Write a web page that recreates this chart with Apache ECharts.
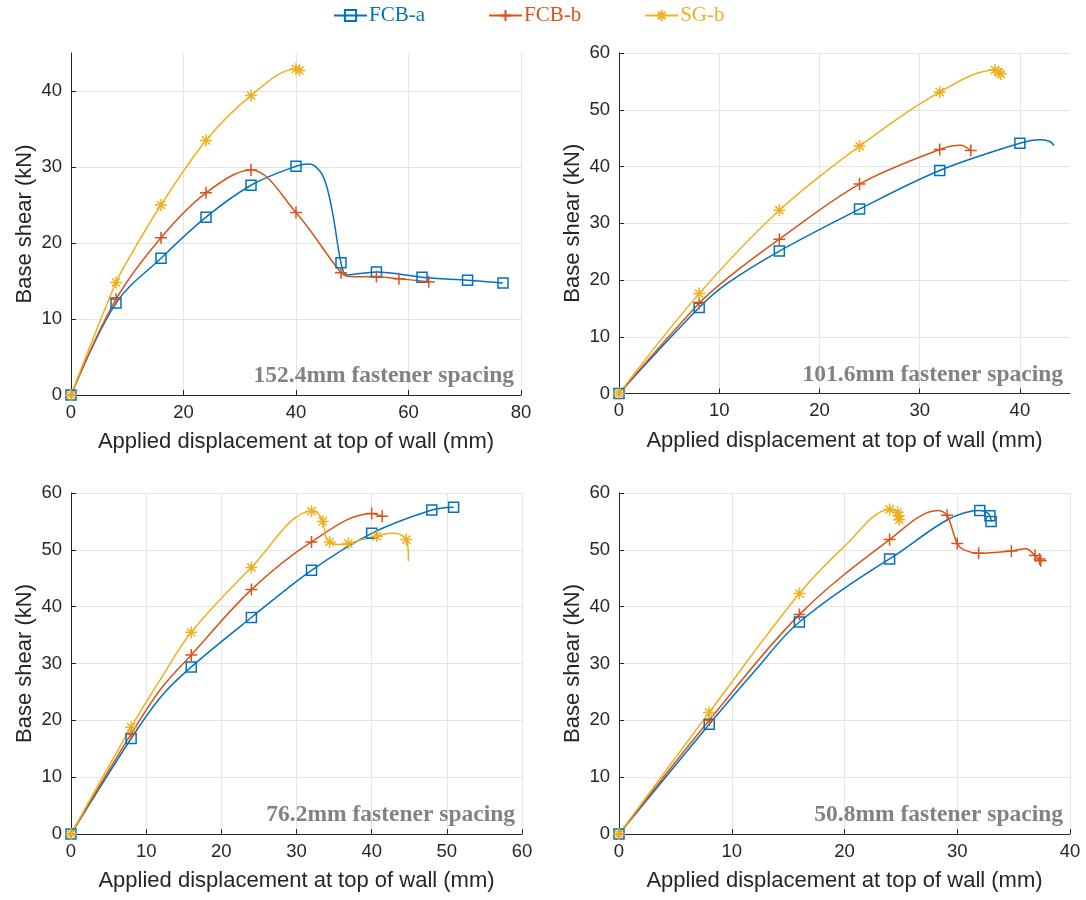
<!DOCTYPE html>
<html>
<head>
<meta charset="utf-8">
<script src="https://cdn.jsdelivr.net/npm/echarts@6/dist/echarts.min.js"></script>
<style>
  html, body { margin: 0; padding: 0; background: #fff; }
  #chart { width: 1086px; height: 900px; }
</style>
</head>
<body>
<div id="chart"></div>
<script>
// Base shear vs. applied top-of-wall displacement for three wall specimens,
// one panel per fastener spacing. "Points" are the marked test readings,
// "Curve" is the fitted response traced through them.

const seriesNames = ['FCB-a', 'FCB-b', 'SG-b'];
const panelLabels = [
  '152.4mm fastener spacing',
  '101.6mm fastener spacing',
  '76.2mm fastener spacing',
  '50.8mm fastener spacing'
];
const xAxisTitle = 'Applied displacement at top of wall (mm)';
const yAxisTitle = 'Base shear (kN)';
const xMax = [80, 45, 60, 40];
const xStep = [20, 10, 10, 10];
const yMax = [45, 60, 60, 60];
const yStep = [10, 10, 10, 10];

// ---- 152.4 mm spacing ----
const fcbA152Points = [[0,0],[8,12.1],[16,18.0],[24,23.4],[32,27.6],[40,30.1],[48,17.4],[54.3,16.2],[62.4,15.5],[70.5,15.1],[76.8,14.75]];
const fcbA152Curve  = [[0,0],[8,12.1],[16,18.0],[24,23.4],[32,27.6],[40,30.1],[42.4,30.4],[44.2,29.5],[45.4,27.6],[46.6,23.6],[48,17.4],[49,15.8],[54.3,16.2],[62.4,15.5],[70.5,15.1],[76.8,14.75]];
const fcbB152Points = [[0,0],[8,12.6],[16,20.7],[24,26.6],[32,29.6],[40,24.0],[48,16.1],[54.3,15.6],[58.3,15.3],[63.6,14.9]];
const fcbB152Curve  = [[0,0],[8,12.6],[16,20.7],[24,26.6],[32,29.6],[40,24.0],[48,16.1],[49.3,15.6],[54.3,15.55],[58.3,15.3],[63.6,14.9]];
const sgB152Points  = [[0,0],[8,14.8],[16,25.0],[24,33.5],[32,39.4],[40,42.9],[40.6,42.7]];
const sgB152Curve   = [[0,0],[8,14.8],[10.7,18.5],[16,25.0],[24,33.5],[32,39.4],[40,42.9],[40.8,42.5]];

// ---- 101.6 mm spacing ----
const fcbA102Points = [[0,0],[8,15.15],[16,25.1],[24,32.5],[32,39.3],[40,44.1]];
const fcbA102Curve  = [[0,0],[8,15.15],[10.8,19.4],[16,25.1],[24,32.5],[32,39.3],[40,44.1],[42.1,44.7],[43.0,44.4],[43.4,43.7]];
const fcbB102Points = [[0,0],[8,15.9],[16,27.2],[24,36.9],[32,43.0],[35.1,42.8]];
const fcbB102Curve  = [[0,0],[8,15.9],[10.8,20.3],[16,27.2],[24,36.9],[32,43.0],[34.1,43.75],[35.1,42.8]];
const sgB102Points  = [[0,0],[8,17.6],[16,32.3],[24,43.6],[32,53.1],[37.5,57.0],[37.9,56.6],[38.1,56.3]];
const sgB102Curve   = [[0,0],[8,17.6],[16,32.3],[24,43.6],[32,53.1],[37.5,57.0],[38.1,56.3]];

// ---- 76.2 mm spacing ----
const fcbA76Points = [[0,0],[8,16.8],[16,29.4],[24,38.1],[32,46.4],[40,52.9],[48,57.0],[50.9,57.5]];
const fcbA76Curve  = [[0,0],[8,16.8],[12,24.2],[16,29.4],[24,38.1],[32,46.4],[40,52.9],[48,57.0],[50.9,57.5]];
const fcbB76Points = [[0,0],[8,17.6],[16,31.5],[24,43.0],[32,51.4],[40,56.4],[41.4,55.9]];
const fcbB76Curve  = [[0,0],[8,17.6],[12,25.6],[16,31.5],[24,43.0],[32,51.4],[40,56.4],[41.4,55.9]];
const sgB76Points  = [[0,0],[8,18.8],[16,35.5],[24,46.9],[32,56.8],[33.5,55.0],[34.4,51.4],[36.9,51.1],[40.7,52.4],[44.6,51.8]];
const sgB76Curve   = [[0,0],[8,18.8],[12,27.4],[16,35.5],[24,46.9],[32,56.8],[32.8,56.5],[33.5,55.0],[33.9,52.3],[34.4,51.4],[35.5,50.95],[36.9,51.1],[38.7,51.8],[40.7,52.4],[42.5,52.9],[43.8,52.7],[44.6,51.8],[44.85,50.0],[44.9,48.0]];

// ---- 50.8 mm spacing ----
const fcbA51Points = [[0,0],[8,19.3],[16,37.3],[24,48.4],[32,56.9],[32.9,56.0],[33,55.0]];
const fcbA51Curve  = [[0,0],[8,19.3],[12,28.6],[16,37.3],[24,48.4],[32,56.9],[32.6,56.6],[32.9,56.0],[33,55.0]];
const fcbB51Points = [[0,0],[8,20.0],[16,38.6],[24,51.8],[29.1,56.1],[30,51.1],[31.9,49.4],[34.8,49.8],[36.9,49.0],[37.3,48.4],[37.4,48.1]];
const fcbB51Curve  = [[0,0],[8,20.0],[16,38.6],[24,51.8],[28.3,56.9],[29.1,56.1],[29.4,54.6],[30,51.1],[30.6,50.0],[31.9,49.4],[34.8,49.8],[36.1,50.2],[36.9,49.0],[37.4,48.1]];
const sgB51Points  = [[0,0],[8,21.4],[16,42.3],[24,57.1],[24.7,56.6],[24.8,56.0],[24.85,55.3]];
const sgB51Curve   = [[0,0],[8,21.4],[16,42.3],[20,50.6],[24,57.1],[24.7,56.6],[24.85,55.3]];

const panels = [
  [[fcbA152Points, fcbA152Curve], [fcbB152Points, fcbB152Curve], [sgB152Points, sgB152Curve]],
  [[fcbA102Points, fcbA102Curve], [fcbB102Points, fcbB102Curve], [sgB102Points, sgB102Curve]],
  [[fcbA76Points,  fcbA76Curve],  [fcbB76Points,  fcbB76Curve],  [sgB76Points,  sgB76Curve]],
  [[fcbA51Points,  fcbA51Curve],  [fcbB51Points,  fcbB51Curve],  [sgB51Points,  sgB51Curve]]
];

// Styling
const colors = ['#0072BD', '#D95319', '#EDB120'];
const fills = ['rgba(255,255,255,0)', '#D95319', '#EDB120'];
const symbols = [
  'rect',
  'path://M5,0L5,10M0,5L10,5',
  'path://M5,0L5,10M0,5L10,5M1.6,1.6L8.4,8.4M8.4,1.6L1.6,8.4'
];
const symbolSizes = [10, 12, 12];
const sansFont = '"Liberation Sans", Arial, Helvetica, sans-serif';
const serifFont = '"Liberation Serif", "Times New Roman", serif';
const axisInk = '#262626';
const gridInk = '#e4e4e4';

// Plot areas in pixels: [left, top, width, height]
const plotBoxes = [
  [71, 53, 450, 342],
  [619, 53, 451, 340.5],
  [71, 493, 451, 341],
  [619, 493, 451, 341]
];

const grid = plotBoxes.map(b => ({ left: b[0], top: b[1], width: b[2], height: b[3], containLabel: false }));

const xAxis = plotBoxes.map((b, i) => ({
  gridIndex: i,
  type: 'value',
  min: 0, max: xMax[i], interval: xStep[i],
  name: xAxisTitle,
  nameLocation: 'middle',
  nameGap: 36,
  nameTextStyle: { fontSize: 22, color: axisInk, fontFamily: sansFont },
  axisLine: { show: true, onZero: false, lineStyle: { color: axisInk, width: 1 } },
  axisTick: { show: true, inside: true, length: 5, lineStyle: { color: axisInk } },
  axisLabel: { fontSize: 18.5, color: axisInk, fontFamily: sansFont, margin: 8,
               showMaxLabel: xMax[i] % xStep[i] === 0 },
  splitLine: { show: true, showMaxLine: xMax[i] % xStep[i] === 0, lineStyle: { color: gridInk, width: 1 } }
}));

const yAxis = plotBoxes.map((b, i) => ({
  gridIndex: i,
  type: 'value',
  min: 0, max: yMax[i], interval: yStep[i],
  name: yAxisTitle,
  nameLocation: 'middle',
  nameGap: 35,
  nameTextStyle: { fontSize: 22, color: axisInk, fontFamily: sansFont },
  axisLine: { show: true, onZero: false, lineStyle: { color: axisInk, width: 1 } },
  axisTick: { show: true, inside: true, length: 5, lineStyle: { color: axisInk } },
  axisLabel: { fontSize: 18.5, color: axisInk, fontFamily: sansFont, margin: 9,
               showMaxLabel: yMax[i] % yStep[i] === 0 },
  splitLine: { show: true, showMaxLine: yMax[i] % yStep[i] === 0, lineStyle: { color: gridInk, width: 1 } }
}));

const series = [];
panels.forEach((panel, p) => {
  panel.forEach((pair, k) => {
    const [points, curve] = pair;
    const style = { color: fills[k], borderColor: colors[k], borderWidth: 1.5, opacity: 1 };
    series.push({
      type: 'line',
      name: seriesNames[k],
      xAxisIndex: p, yAxisIndex: p,
      data: curve,
      smooth: 0.35,
      showSymbol: false,
      symbol: symbols[k],
      symbolSize: symbolSizes[k],
      lineStyle: { color: colors[k], width: 1.5 },
      itemStyle: style,
      emphasis: { disabled: true },
      silent: true,
      z: 2
    });
    series.push({
      type: 'scatter',
      name: seriesNames[k],
      xAxisIndex: p, yAxisIndex: p,
      data: points,
      symbol: symbols[k],
      symbolSize: symbolSizes[k],
      itemStyle: style,
      emphasis: { disabled: true },
      silent: true,
      z: 3
    });
  });
});

const graphic = plotBoxes.map((b, i) => ({
  type: 'text',
  x: b[0] + b[2] - 7,
  y: b[1] + b[3] - 19,
  z: 10,
  silent: true,
  style: {
    text: panelLabels[i],
    align: 'right',
    verticalAlign: 'middle',
    fontSize: 23.5,
    fontWeight: 'bold',
    fontFamily: serifFont,
    fill: '#828282'
  }
}));

const chart = echarts.init(document.getElementById('chart'), null, { renderer: 'canvas' });
chart.setOption({
  animation: false,
  backgroundColor: '#ffffff',
  legend: {
    data: seriesNames.map((n, k) => ({ name: n, textStyle: { color: colors[k] } })),
    left: 328,
    top: 0,
    padding: 5,
    itemWidth: 33,
    itemHeight: 14,
    itemGap: 63,
    selectedMode: false,
    textStyle: { fontFamily: serifFont, fontSize: 21, padding: [0, 0, 0, -3] }
  },
  grid,
  xAxis,
  yAxis,
  series,
  graphic
});
</script>
</body>
</html>
